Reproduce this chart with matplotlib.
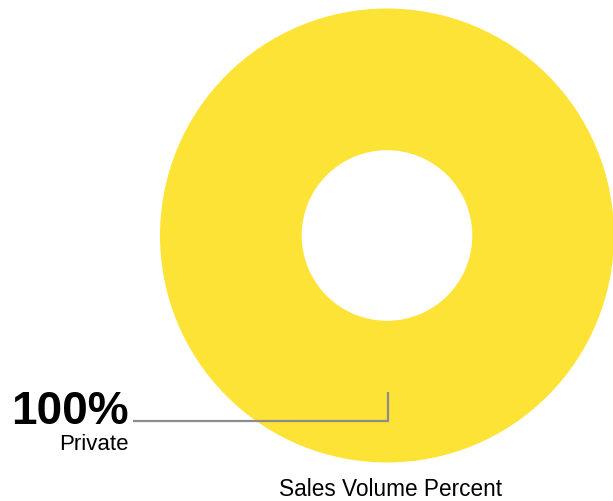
import matplotlib
matplotlib.use("Agg")
import matplotlib.pyplot as plt

categories = ["Private"]
values = [100]
colors = ["#FDE336"]
title = "Sales Volume Percent"

W, H = 613, 502
fig = plt.figure(figsize=(W / 100, H / 100), dpi=100)
ax = fig.add_axes([0, 0, 1, 1])

cx, cy = 387, 236.5
r_out, r_in = 227, 85.3
ax.pie(values, colors=colors, radius=r_out, center=(cx, cy), startangle=90,
       counterclock=False, wedgeprops=dict(width=r_out - r_in, linewidth=0))
ax.set_xlim(0, W)
ax.set_ylim(H, 0)
ax.set_aspect("equal")
ax.axis("off")

font = ["Liberation Sans", "DejaVu Sans"]
total = sum(values)
r_mid = (r_out + r_in) / 2
for name, v in zip(categories, values):
    pct = f"{v / total * 100:.0f}%"
    # leader from the ring's mid radius at the bottom to the label
    x0, y0 = cx + 0.5, cy + r_mid
    ly = 422
    ax.plot([x0, x0, 133], [y0, ly, ly], color="#8c8c8c", lw=1.6,
            solid_joinstyle="miter", solid_capstyle="butt")
    ax.text(128.5, 424, pct, ha="right", va="baseline", fontsize=33,
            fontweight="bold", family=font, color="black")
    ax.text(128.5, 450, name, ha="right", va="baseline", fontsize=16,
            family=font, color="black")

ax.text(390, 496, title, ha="center", va="baseline", fontsize=16.3,
        family=font, color="black")

fig.savefig("out.png", dpi=100)
